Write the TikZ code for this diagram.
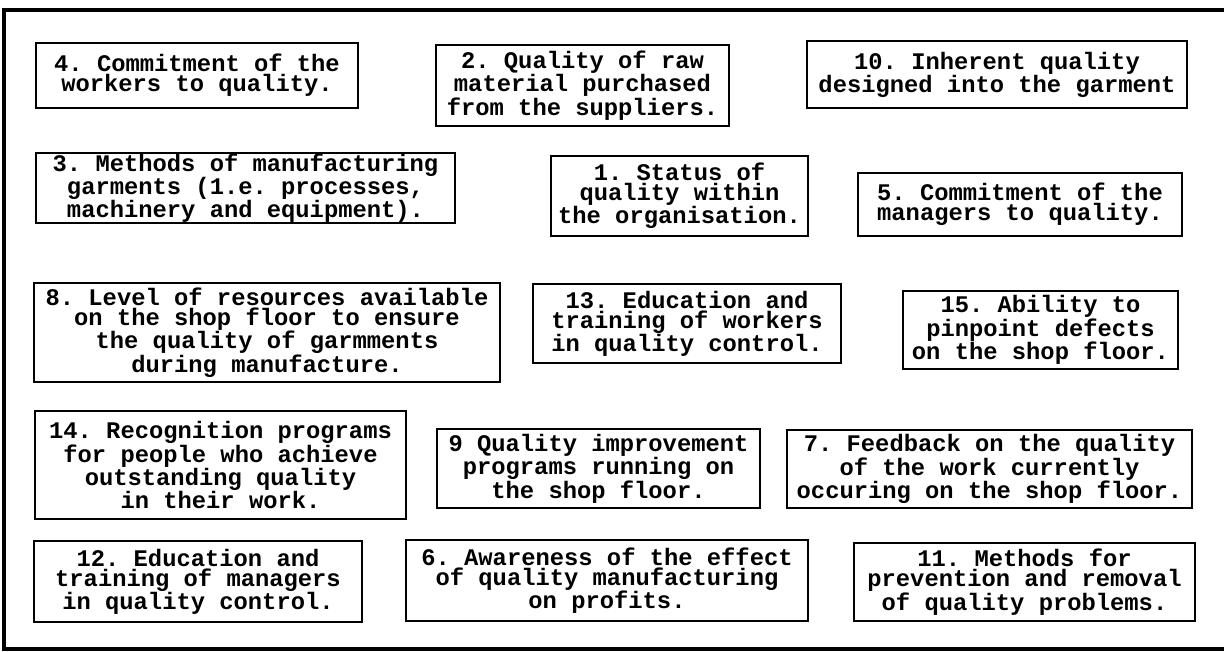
\documentclass[tikz,border=0pt]{standalone}
\usepackage{fontspec}
\setmonofont{Liberation Mono}
\begin{document}
\begin{tikzpicture}[x=1pt,y=-1pt,
  box/.style={draw=black, line width=2pt, inner sep=0pt, align=center,
    font=\ttfamily\bfseries\fontsize{23.8pt}{20pt}\selectfont},
  frameline/.style={line width=3.5pt, line cap=rect}]
\useasboundingbox (0,0) rectangle (1224,652);
% frame (open on the right)
\coordinate (ftr) at (1226,10);
\coordinate (ftl) at (4,10);
\coordinate (fbl) at (4,649);
\coordinate (fbr) at (1226,649);
\draw[frameline] (ftr) -- (ftl) -- (fbl) -- (fbr);
% row 1
\node[box, minimum width=322pt, minimum height=65pt] (b4) at (197,75.5) {4. Commitment of the\\workers to quality.};
\node[box, minimum width=293pt, minimum height=81pt] (b2) at (582.5,85.5) {2. Quality of raw\\material purchased\\from the suppliers.};
\node[box, minimum width=380pt, minimum height=67pt] (b10) at (997,74.5) {10. Inherent quality\\designed into the garment};
% row 2
\node[box, minimum width=419pt, minimum height=66pt] (b3) at (245.5,188) {3. Methods of manufacturing\\garments (1.e. processes,\\machinery and equipment).};
\node[box, minimum width=257pt, minimum height=80pt] (b1) at (679.5,196) {1. Status of\\quality within\\the organisation.};
\node[box, minimum width=324pt, minimum height=63pt] (b5) at (1020,204.5) {5. Commitment of the\\managers to quality.};
% row 3
\node[box, minimum width=466pt, minimum height=99pt] (b8) at (267,332.5) {8. Level of resources available\\on the shop floor to ensure\\the quality of garmments\\during manufacture.};
\node[box, minimum width=308pt, minimum height=79pt] (b13) at (687,323.5) {13. Education and\\training of workers\\in quality control.};
\node[box, minimum width=275pt, minimum height=78pt] (b15) at (1040.5,330) {15. Ability to\\pinpoint defects\\on the shop floor.};
% row 4
\node[box, minimum width=371pt, minimum height=108pt] (b14) at (220.5,465) {14. Recognition programs\\for people who achieve\\outstanding quality\\in their work.};
\node[box, minimum width=323pt, minimum height=79pt] (b9) at (598.5,468.5) {9 Quality improvement\\programs running on\\the shop floor.};
\node[box, minimum width=405pt, minimum height=78pt] (b7) at (989.5,469) {7. Feedback on the quality\\of the work currently\\occuring on the shop floor.};
% row 5
\node[box, minimum width=328pt, minimum height=81pt] (b12) at (198,581.5) {12. Education and\\training of managers\\in quality control.};
\node[box, minimum width=402pt, minimum height=81pt] (b6) at (607,580.5) {6. Awareness of the effect\\of quality manufacturing\\on profits.};
\node[box, minimum width=341pt, minimum height=78pt] (b11) at (1024.5,582) {11. Methods for\\prevention and removal\\of quality problems.};
\end{tikzpicture}
\end{document}
